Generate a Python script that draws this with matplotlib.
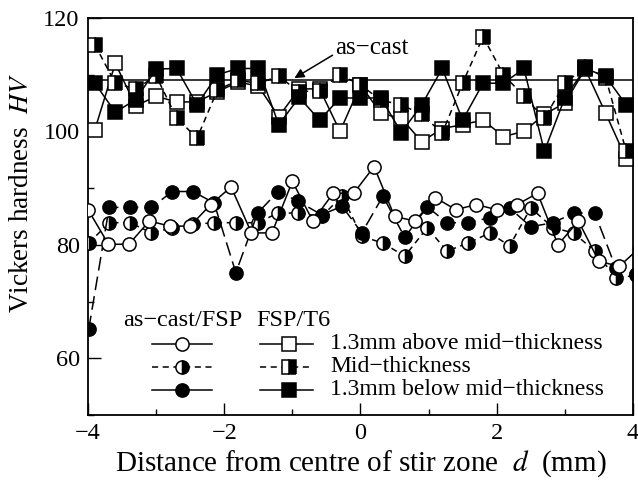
import matplotlib
matplotlib.use("Agg")
import matplotlib.pyplot as plt
from matplotlib.ticker import MultipleLocator

plt.rcParams['font.family'] = ['Liberation Serif', 'DejaVu Serif']
plt.rcParams['mathtext.fontset'] = 'stix'

# distance from stir zone centre (mm)
x_cast_above = [-4.0, -3.7, -3.4, -3.1, -2.8, -2.5, -2.2, -1.9, -1.6, -1.3, -1.0, -0.7, -0.4, -0.1,
                0.2, 0.5, 0.8, 1.1, 1.4, 1.7, 2.0, 2.3, 2.6, 2.9, 3.2, 3.5, 3.8, 4.1]
x_cast_mid_below = [-3.99, -3.69, -3.38, -3.07, -2.76, -2.46, -2.15, -1.83, -1.51, -1.21, -0.92, -0.57,
                    -0.27, 0.02, 0.33, 0.65, 0.98, 1.27, 1.58, 1.90, 2.19, 2.50, 2.83, 3.13, 3.44, 3.75, 4.05]
x_t6 = [-3.9, -3.6, -3.3, -3.0, -2.7, -2.4, -2.1, -1.8, -1.5, -1.2, -0.9, -0.6, -0.3, 0.0,
        0.3, 0.6, 0.9, 1.2, 1.5, 1.8, 2.1, 2.4, 2.7, 3.0, 3.3, 3.6, 3.9]

# as-cast/FSP hardness
hv_cast_above = [86.2, 80.1, 80.1, 84.2, 83.3, 83.3, 87.1, 90.2, 82.1, 82.1, 91.2, 84.2, 89.1, 89.1,
                 93.8, 85.0, 84.2, 88.3, 86.2, 87.1, 86.2, 87.1, 89.1, 80.0, 84.2, 77.1, 76.2, 79.5]
hv_cast_mid = [80.3, 83.9, 83.9, 82.1, 83.0, 83.6, 83.9, 83.9, 83.9, 85.6, 85.6, 85.0, 88.6, 81.5,
               80.3, 78.0, 83.0, 78.9, 80.3, 82.1, 79.8, 86.5, 83.0, 82.1, 78.9, 74.2, 74.6]
hv_cast_below = [65.1, 86.6, 86.6, 86.6, 89.4, 89.4, 87.4, 75.1, 85.6, 89.4, 87.7, 85.3, 86.8, 82.1,
                 88.6, 81.3, 86.7, 83.9, 83.9, 84.8, 86.5, 83.2, 83.9, 85.6, 85.6, 75.9, 74.8]

# FSP/T6 hardness
hv_t6_above = [100.3, 112.0, 104.5, 106.2, 105.2, 105.2, 107.0, 108.7, 108.0, 102.6, 107.5, 107.5, 100.0, 108.2,
               103.2, 102.3, 98.2, 100.5, 101.2, 102.0, 99.1, 100.0, 103.0, 105.0, 111.0, 103.2, 95.2]
hv_t6_mid = [115.3, 108.5, 107.5, 109.8, 102.4, 98.8, 107.3, 109.0, 108.5, 109.7, 107.0, 107.2, 110.0, 108.2,
             105.5, 104.7, 103.0, 99.7, 108.5, 116.7, 110.0, 106.2, 102.3, 108.5, 111.3, 109.5, 96.6]
hv_t6_below = [108.5, 103.4, 105.6, 111.0, 111.1, 104.7, 110.0, 111.1, 111.1, 101.2, 106.0, 102.0, 105.9, 105.9,
               105.9, 99.8, 104.7, 111.1, 102.0, 108.5, 108.5, 111.1, 96.5, 105.9, 111.1, 109.7, 104.7]

hv_as_cast = 109.0
legend_labels = ["1.3mm above mid\u2212thickness", "Mid\u2212thickness", "1.3mm below mid\u2212thickness"]

fig = plt.figure(figsize=(6.38, 4.87), dpi=100)
ax = fig.add_axes([0.138, 0.148, 0.854, 0.815])

ms = 9.5
lw = 1.1
mew = 1.1
short_dash = (0, (4, 3))
long_dash = (0, (9, 4))

open_style = dict(marker='o', ms=ms, mfc='white', mec='black', mew=mew, color='black', lw=lw)
half_style = dict(marker='o', ms=ms, fillstyle='right', mfc='black', mfcalt='white', mec='black',
                  mew=mew, color='black', lw=lw)
full_style = dict(marker='o', ms=ms, mfc='black', mec='black', mew=mew, color='black', lw=lw)

# as-cast reference line
ax.axhline(hv_as_cast, color='black', lw=1.1, zorder=1)

# FSP/T6 squares
ax.plot(x_t6, hv_t6_above, ls='-', **{**open_style, 'marker': 's'}, zorder=3)
ax.plot(x_t6, hv_t6_mid, ls=short_dash, **{**half_style, 'marker': 's'}, zorder=3)
ax.plot(x_t6, hv_t6_below, ls='-', **{**full_style, 'marker': 's'}, zorder=3)

# as-cast/FSP circles
ax.plot(x_cast_mid_below, hv_cast_mid, ls=short_dash, **half_style, zorder=3)
ax.plot(x_cast_mid_below, hv_cast_below, ls=long_dash, **full_style, zorder=3)
ax.plot(x_cast_above, hv_cast_above, ls='-', **open_style, zorder=4)

ax.annotate("as\u2212cast", xy=(-0.97, 109.4), xytext=(-0.37, 114.7), fontsize=18,
            ha='left', va='center',
            arrowprops=dict(arrowstyle='-|>', color='black', lw=1.1, mutation_scale=14,
                            shrinkA=0, shrinkB=0, relpos=(0.0, 0.25)))

ax.set_xlim(-4, 4)
ax.set_ylim(50, 120)
ax.xaxis.set_major_locator(MultipleLocator(2))
ax.xaxis.set_minor_locator(MultipleLocator(1))
ax.yaxis.set_major_locator(MultipleLocator(20))
ax.yaxis.set_minor_locator(MultipleLocator(10))
ax.set_yticks([60, 80, 100, 120])
ax.tick_params(which='major', direction='in', length=9, width=1.0, labelsize=17.5, pad=6)
ax.tick_params(which='minor', direction='in', length=4.5, width=1.0)
for s in ax.spines.values():
    s.set_linewidth(1.3)

ax.set_xlabel("Distance from centre of stir zone  $\\it{d}$  (mm)", fontsize=21, labelpad=3)
ax.set_ylabel("Vickers hardness  $\\it{HV}$", fontsize=19.5)
ax.yaxis.set_label_coords(-0.100, 0.56)

# hand-made legend
tr = ax.transAxes
ax.text(0.064, 0.239, "as\u2212cast/FSP", transform=tr, fontsize=17.5, va='center', ha='left')
ax.text(0.308, 0.239, "FSP/T6", transform=tr, fontsize=17.5, va='center', ha='left')
rows = [0.179, 0.122, 0.063]
circ_styles = [(open_style, '-'), (half_style, short_dash), (full_style, '-')]
sq_styles = [(open_style, '-'), (half_style, short_dash), (full_style, '-')]
for ry, (cs, cl), (ss, sl), lab in zip(rows, circ_styles, sq_styles, legend_labels):
    ax.plot([0.117, 0.228], [ry, ry], transform=tr, color='black', lw=lw, ls=cl, clip_on=False)
    ax.plot([0.172], [ry], transform=tr, ls='none', clip_on=False,
            **{k: v for k, v in cs.items() if k not in ('color', 'lw')})
    ax.plot([0.316, 0.413], [ry, ry], transform=tr, color='black', lw=lw, ls=sl, clip_on=False)
    ax.plot([0.369], [ry], transform=tr, ls='none', clip_on=False,
            **{**{k: v for k, v in ss.items() if k not in ('color', 'lw')}, 'marker': 's'})
    ax.text(0.444, ry, lab, transform=tr, fontsize=17, va='center', ha='left')

fig.savefig("out.png", dpi=100)
